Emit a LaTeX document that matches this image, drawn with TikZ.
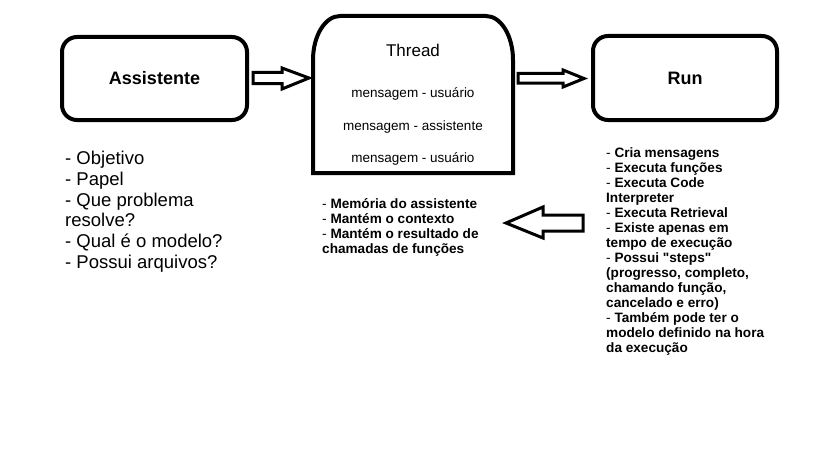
\documentclass[tikz,border=0pt]{standalone}
\usepackage{fontspec}
\setmainfont{Liberation Sans}[Ligatures=TeXOff]
\begin{document}
\begin{tikzpicture}[x=1pt,y=-1pt,
  box/.style={draw, line width=4pt, rounded corners=15pt, font=\fontsize{18}{21}\selectfont\bfseries, inner sep=0pt},
  blockarrow/.style={draw, fill=white, line width=3pt, line join=miter},
  bigtext/.style={anchor=north west, align=left, inner sep=0pt, font=\fontsize{18.5}{20.7}\selectfont},
  notes/.style={anchor=north west, align=left, inner sep=0pt, font=\fontsize{13.6}{15}\selectfont},
  msg/.style={inner sep=0pt, font=\fontsize{13.5}{15}\selectfont}]
\useasboundingbox (0,0) rectangle (819,460);
\fill[white] (0,0) rectangle (819,460);

% Assistente
\node[box, minimum width=185pt, minimum height=83pt] (assist) at (154.5,78.5) {Assistente};
% Run
\node[box, minimum width=184pt, minimum height=84pt] (run) at (685,78) {Run};

% Thread shape
\draw[line width=4pt, line join=miter] (313,173) -- (313,60)
  .. controls (313,35.7) and (325.1,16) .. (340,16) -- (486,16)
  .. controls (500.9,16) and (513,35.7) .. (513,60) -- (513,173) -- cycle;
\coordinate (thread) at (413,95);
\node[inner sep=0pt, font=\fontsize{17}{20}\selectfont] (ttitle) at (413,50) {Thread};
\node[msg] (m1) at (413,94) {mensagem - usuário};
\node[msg] (m2) at (413,127) {mensagem - assistente};
\node[msg] (m3) at (413,159) {mensagem - usuário};

% block arrows
\draw[blockarrow] (253,72.5) -- (282,72.5) -- (282,68) -- (309,78) -- (282,89) -- (282,83.5) -- (253,83.5) -- cycle;
\draw[blockarrow] (518,73.5) -- (563,73.5) -- (563,70) -- (584,78.5) -- (563,87) -- (563,83) -- (518,83) -- cycle;
\draw[blockarrow] (583,215) -- (543,215) -- (543,207) -- (506,223) -- (543,238) -- (543,231) -- (583,231) -- cycle;

% texts
\node[bigtext] (atext) at (65,151) {- Objetivo\\- Papel\\- Que problema\\resolve?\\- Qual é o modelo?\\- Possui arquivos?};

\node[notes] (ttext) at (322,198) {- \textbf{Memória do assistente}\\- \textbf{Mantém o contexto}\\- \textbf{Mantém o resultado de}\\\textbf{chamadas de funções}};

\node[notes] (rtext) at (606,147) {- \textbf{Cria mensagens}\\- \textbf{Executa funções}\\- \textbf{Executa Code}\\\textbf{Interpreter}\\- \textbf{Executa Retrieval}\\- \textbf{Existe apenas em}\\\textbf{tempo de execução}\\- \textbf{Possui "steps"}\\\textbf{(progresso, completo,}\\\textbf{chamando função,}\\\textbf{cancelado e erro)}\\- \textbf{Também pode ter o}\\\textbf{modelo definido na hora}\\\textbf{da execução}};
\end{tikzpicture}
\end{document}
